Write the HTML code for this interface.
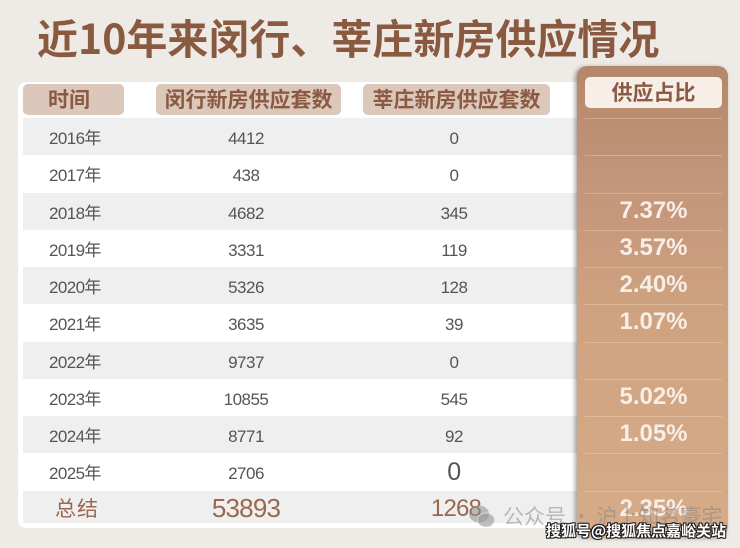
<!DOCTYPE html>
<html><head><meta charset="utf-8">
<style>
*{margin:0;padding:0;box-sizing:border-box}
html,body{width:740px;height:548px;overflow:hidden}
body{position:relative;background:#eeeae5;font-family:"Liberation Sans","Noto Sans CJK SC",sans-serif}
.abs{position:absolute}
.title{left:37px;top:8px;font-size:41px;font-weight:700;color:#8a5a40;white-space:nowrap;font-family:"Noto Sans CJK SC",sans-serif;line-height:56px}
.card{left:18px;top:82px;width:580px;height:446px;background:#fff;border-radius:8px}
.pill{background:#dcc7bb;border-radius:5px;color:#8b5a42;font-weight:700;font-size:21px;font-family:"Noto Sans CJK SC",sans-serif;text-align:center;line-height:31px;height:31px;top:84px}
.row{left:23px;width:570px;height:37.25px}
.g{background:#efefef}
.yr{left:49px;font-size:17px;color:#555;letter-spacing:-0.6px;line-height:20px}
.n{font-size:17px;color:#555;letter-spacing:-0.5px;line-height:20px;width:120px;text-align:center}
.col{left:577px;top:66px;width:151px;height:471px;border-radius:10px;background:linear-gradient(#b5876a 0%,#c3957a 25%,#cea17f 50%,#d3a784 75%,#d6ab88 100%);box-shadow:-2px 1px 4px rgba(0,0,0,0.35)}
.hp{left:585px;top:77px;width:137px;height:31px;background:#f7eee8;border-radius:5px;color:#8b5a42;font-weight:700;font-size:21px;text-align:center;line-height:31px;font-family:"Noto Sans CJK SC",sans-serif}
.ln{left:585px;width:137px;height:1px;background:rgba(245,225,205,0.35)}
.p{left:585px;width:137px;text-align:center;color:#f7eee7;font-weight:700;font-size:24px;line-height:28px}
</style></head><body>
<div class="abs title">近10年来闵行、莘庄新房供应情况</div>
<div class="abs card"></div>
<div class="abs pill" style="left:23px;width:101px;text-align:left;padding-left:25px">时间</div>
<div class="abs pill" style="left:156px;width:185px">闵行新房供应套数</div>
<div class="abs pill" style="left:363px;width:187px">莘庄新房供应套数</div>

<div class="abs row g" style="top:118px"></div>
<div class="abs row g" style="top:192.5px"></div>
<div class="abs row g" style="top:267px"></div>
<div class="abs row g" style="top:341.5px"></div>
<div class="abs row g" style="top:416px"></div>
<div class="abs row g" style="top:490.5px;height:32px"></div>

<div class="abs yr" style="top:129px">2016年</div>
<div class="abs yr" style="top:166px">2017年</div>
<div class="abs yr" style="top:203.5px">2018年</div>
<div class="abs yr" style="top:241px">2019年</div>
<div class="abs yr" style="top:278px">2020年</div>
<div class="abs yr" style="top:315px">2021年</div>
<div class="abs yr" style="top:352.5px">2022年</div>
<div class="abs yr" style="top:390px">2023年</div>
<div class="abs yr" style="top:427px">2024年</div>
<div class="abs yr" style="top:464px">2025年</div>
<div class="abs" style="left:55px;top:495px;font-size:21px;color:#9a6850;letter-spacing:1px;line-height:26px;font-family:'Noto Sans CJK SC',sans-serif">总结</div>

<div class="abs n" style="left:186px;top:129px">4412</div>
<div class="abs n" style="left:186px;top:166px">438</div>
<div class="abs n" style="left:186px;top:203.5px">4682</div>
<div class="abs n" style="left:186px;top:241px">3331</div>
<div class="abs n" style="left:186px;top:278px">5326</div>
<div class="abs n" style="left:186px;top:315px">3635</div>
<div class="abs n" style="left:186px;top:352.5px">9737</div>
<div class="abs n" style="left:186px;top:390px">10855</div>
<div class="abs n" style="left:186px;top:427px">8771</div>
<div class="abs n" style="left:186px;top:464px">2706</div>
<div class="abs n" style="left:186px;top:493px;font-size:26px;color:#9a6850;line-height:30px;letter-spacing:-0.8px">53893</div>

<div class="abs n" style="left:394px;top:129px">0</div>
<div class="abs n" style="left:394px;top:166px">0</div>
<div class="abs n" style="left:394px;top:203.5px">345</div>
<div class="abs n" style="left:394px;top:241px">119</div>
<div class="abs n" style="left:394px;top:278px">128</div>
<div class="abs n" style="left:394px;top:315px">39</div>
<div class="abs n" style="left:394px;top:352.5px">0</div>
<div class="abs n" style="left:394px;top:390px">545</div>
<div class="abs n" style="left:394px;top:427px">92</div>
<div class="abs n" style="left:394px;top:457px;font-size:25px;line-height:30px">0</div>
<div class="abs n" style="left:396px;top:494px;font-size:24px;color:#9a6850;line-height:30px;letter-spacing:-0.8px">1268</div>

<div class="abs col"></div>
<div class="abs hp">供应占比</div>
<div class="abs ln" style="top:118px"></div>
<div class="abs ln" style="top:155px"></div>
<div class="abs ln" style="top:192.5px"></div>
<div class="abs ln" style="top:230px"></div>
<div class="abs ln" style="top:267px"></div>
<div class="abs ln" style="top:304px"></div>
<div class="abs ln" style="top:341.5px"></div>
<div class="abs ln" style="top:379px"></div>
<div class="abs ln" style="top:416px"></div>
<div class="abs ln" style="top:453px"></div>
<div class="abs ln" style="top:490.5px"></div>

<div class="abs p" style="top:197px">7.37%</div>
<div class="abs p" style="top:234px">3.57%</div>
<div class="abs p" style="top:271px">2.40%</div>
<div class="abs p" style="top:308px">1.07%</div>
<div class="abs p" style="top:383px">5.02%</div>
<div class="abs p" style="top:420px">1.05%</div>
<div class="abs p" style="top:495px">2.35%</div>

<svg class="abs" style="left:468px;top:504px" width="28" height="26" viewBox="0 0 28 26">
<ellipse cx="11" cy="10" rx="10" ry="8.5" fill="rgba(140,140,140,0.55)"/>
<ellipse cx="18" cy="16" rx="8.5" ry="7" fill="rgba(150,150,150,0.6)" stroke="rgba(240,240,240,0.6)" stroke-width="1"/>
</svg>
<div class="abs" style="left:503px;top:503px;font-size:21px;color:rgba(130,130,130,0.5);white-space:nowrap;line-height:26px;font-family:'Noto Sans CJK SC',sans-serif">公众号 · 沪上知名豪宅</div>
<div class="abs" style="left:546px;top:521px;font-size:15px;font-weight:700;color:#fff;white-space:nowrap;line-height:20px;font-family:'Noto Sans CJK SC',sans-serif;text-shadow:-1px -1px 0 #222,1px -1px 0 #222,-1px 1px 0 #222,1px 1px 0 #222,0 1px 0 #222,0 -1px 0 #222,1px 0 0 #222,-1px 0 0 #222">搜狐号@搜狐焦点嘉峪关站</div>
</body></html>
